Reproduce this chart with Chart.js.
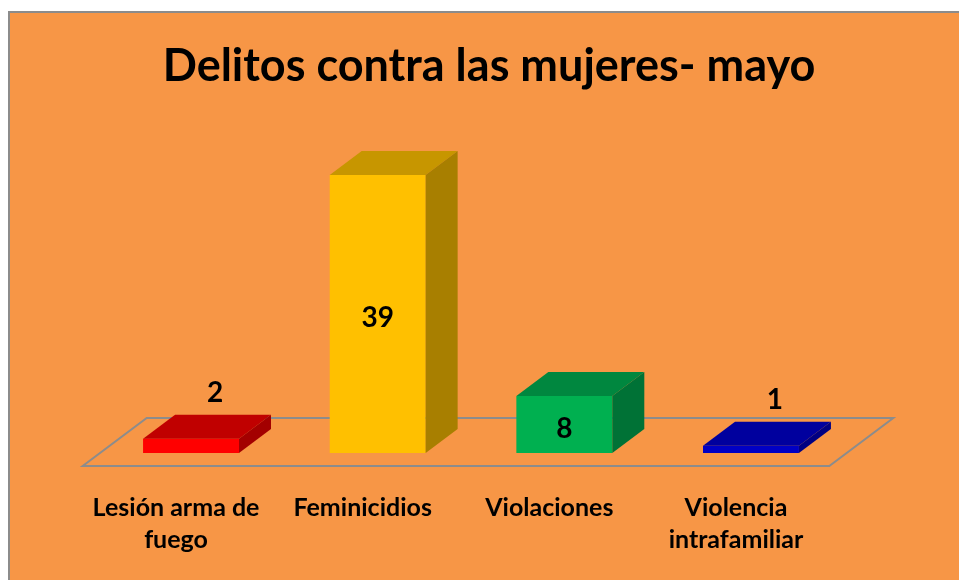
<!DOCTYPE html>
<html>
<head>
<meta charset="utf-8">
<script src="https://cdn.jsdelivr.net/npm/chart.js@4.4.1/dist/chart.umd.min.js"></script>
<style>
  html, body { margin: 0; padding: 0; background: #ffffff; width: 959px; height: 580px; overflow: hidden; }
  #frame { position: absolute; left: 8px; top: 11px; width: 951px; height: 569px; box-sizing: border-box;
           border-left: 2px solid #8c8c8c; border-top: 2px solid #8c8c8c; background: #F79646; }
  #wrap { position: absolute; left: 0; top: 0; width: 949px; height: 567px; }
  #title { position: absolute; left: 89px; top: 37px; width: 800px; height: 60px; line-height: 60px;
           text-align: center; font: bold 45px 'Lato', 'Roboto', sans-serif; color: #000; white-space: nowrap; }
</style>
</head>
<body>
<div id="frame"><div id="wrap"><canvas id="c"></canvas></div></div>
<div id="title">Delitos contra las mujeres- mayo</div>
<script>
// ---- data ----
const categories = [["Lesión arma de", "fuego"], "Feminicidios", "Violaciones", ["Violencia", "intrafamiliar"]];
const values = [2, 39, 8, 1];
const yMin = 0;
const yMax = 50;

// ---- styles ----
const frontColors = ['#FF0000', '#FFC000', '#00B050', '#0000C4'];
const topColors   = ['#C00000', '#C79600', '#00873F', '#00009E'];
const sideColors  = ['#A30000', '#A87F00', '#007236', '#000082'];
const FONT = "'Lato', 'Roboto', sans-serif";
const DEPTH_X = 32, DEPTH_Y = -24;       // bar depth
const FLOOR_FRONT = { dx: -15, dy: 13 }; // floor front edge offset from base line
const FLOOR_BACK  = { dx: 49, dy: -35 }; // floor back edge offset from base line

const bar3d = {
  id: 'bar3d',
  beforeDatasetsDraw(chart) {
    const { ctx, chartArea } = chart;
    const y0 = chart.scales.y.getPixelForValue(0);
    ctx.save();
    ctx.beginPath();
    ctx.moveTo(chartArea.left + FLOOR_FRONT.dx, y0 + FLOOR_FRONT.dy);
    ctx.lineTo(chartArea.right + FLOOR_FRONT.dx, y0 + FLOOR_FRONT.dy);
    ctx.lineTo(chartArea.right + FLOOR_BACK.dx, y0 + FLOOR_BACK.dy);
    ctx.lineTo(chartArea.left + FLOOR_BACK.dx, y0 + FLOOR_BACK.dy);
    ctx.closePath();
    ctx.strokeStyle = '#8c8c8c';
    ctx.lineWidth = 2;
    ctx.stroke();
    ctx.restore();
  },
  afterDatasetsDraw(chart) {
    const { ctx } = chart;
    const meta = chart.getDatasetMeta(0);
    ctx.save();
    meta.data.forEach((bar, i) => {
      const { x, y, base, width } = bar.getProps(['x', 'y', 'base', 'width'], true);
      const l = x - width / 2, r = x + width / 2;
      // top face
      ctx.beginPath();
      ctx.moveTo(l, y); ctx.lineTo(r, y); ctx.lineTo(r + DEPTH_X, y + DEPTH_Y); ctx.lineTo(l + DEPTH_X, y + DEPTH_Y);
      ctx.closePath(); ctx.fillStyle = topColors[i]; ctx.fill();
      // side face
      ctx.beginPath();
      ctx.moveTo(r, y); ctx.lineTo(r + DEPTH_X, y + DEPTH_Y); ctx.lineTo(r + DEPTH_X, base + DEPTH_Y); ctx.lineTo(r, base);
      ctx.closePath(); ctx.fillStyle = sideColors[i]; ctx.fill();
      // value label
      ctx.fillStyle = '#000';
      ctx.font = 'bold 28px ' + FONT;
      ctx.textAlign = 'center';
      ctx.textBaseline = 'middle';
      const v = chart.data.datasets[0].data[i];
      if (base - y > 40) {
        ctx.fillText(String(v), x, (y + base) / 2 + 4);
      } else {
        ctx.fillText(String(v), x + 24, y + DEPTH_Y - 22);
      }
    });
    ctx.restore();
  }
};

new Chart(document.getElementById('c'), {
  type: 'bar',
  data: {
    labels: categories,
    datasets: [{
      data: values,
      backgroundColor: frontColors,
      borderWidth: 0,
      categoryPercentage: 1,
      barPercentage: 0.514
    }]
  },
  options: {
    responsive: true,
    maintainAspectRatio: false,
    animation: false,
    layout: { padding: { left: 87.7, right: 114.7, top: 83.6, bottom: 0 } },
    plugins: { legend: { display: false }, title: { display: false }, tooltip: { enabled: false } },
    scales: {
      x: {
        grid: { display: false, drawTicks: false },
        border: { display: false },
        ticks: {
          color: '#000', padding: 39, labelOffset: -15, maxRotation: 0, autoSkip: false,
          font: { family: FONT, size: 25, weight: 'bold', lineHeight: 1.28 }
        },
        afterFit(scale) { scale.height = 127; }
      },
      y: { display: false, min: yMin, max: yMax }
    }
  },
  plugins: [bar3d]
});
</script>
</body>
</html>
